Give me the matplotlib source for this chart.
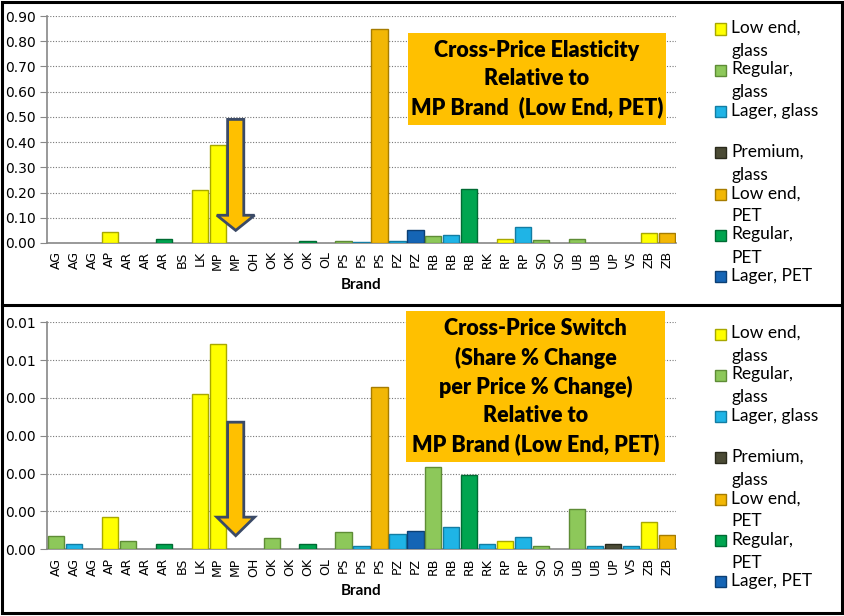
import matplotlib
matplotlib.use("Agg")
import matplotlib.pyplot as plt
from matplotlib.patches import Rectangle, Polygon
from matplotlib.lines import Line2D

brands = ["AG", "AG", "AG", "AP", "AR", "AR", "AR", "BS", "LK", "MP", "MP", "OH",
          "OK", "OK", "OK", "OL", "PS", "PS", "PS", "PZ", "PZ", "RB", "RB", "RB",
          "RK", "RP", "RP", "SO", "SO", "UB", "UB", "UP", "VS", "ZB", "ZB"]
# segment index of each bar (see segment_names)
segment = [1, 2, 6, 0, 1, 3, 5, 3, 0, 0, 4, 3,
           1, 3, 5, 3, 1, 2, 4, 2, 6, 1, 2, 5,
           2, 0, 2, 1, 3, 1, 2, 3, 2, 0, 4]
elasticity = [0, 0, 0, 0.042, 0, 0, 0.017, 0, 0.21, 0.39, 0, 0,
              0, 0, 0.009, 0, 0.008, 0.005, 0.85, 0.008, 0.051, 0.029, 0.033, 0.216,
              0, 0.016, 0.062, 0.011, 0, 0.015, 0, 0, 0, 0.04, 0.04]
switch = [0.00035, 0.00014, 0, 0.00085, 0.00023, 0, 0.00014, 0, 0.00411, 0.00543, 0, 0,
          0.00031, 0, 0.00014, 0, 0.00047, 0.0001, 0.00428, 0.0004, 0.00048, 0.00218, 0.0006, 0.00196,
          0.00013, 0.00022, 0.00033, 0.00008, 0, 0.00106, 0.0001, 0.00013, 0.00008, 0.00073, 0.00038]

segment_names = ["Low end,\nglass", "Regular,\nglass", "Lager, glass", "Premium,\nglass",
                 "Low end,\nPET", "Regular,\nPET", "Lager, PET"]
seg_colors = ["#FFFF00", "#8DC85A", "#1FB4E6", "#4B4B35", "#F2B705", "#00A550", "#1565B5"]
seg_edges = ["#A8A800", "#5E8C36", "#137DA3", "#2A2A1C", "#A67C00", "#006B33", "#0C3F73"]

top_ticks = [0.0, 0.1, 0.2, 0.3, 0.4, 0.5, 0.6, 0.7, 0.8, 0.9]
top_labels = ["0.00", "0.10", "0.20", "0.30", "0.40", "0.50", "0.60", "0.70", "0.80", "0.90"]
bot_ticks = [0.0, 0.001, 0.002, 0.003, 0.004, 0.005, 0.006]
bot_labels = ["0.00", "0.00", "0.00", "0.00", "0.00", "0.01", "0.01"]

top_title = "Cross-Price Elasticity\nRelative to\nMP Brand  (Low End, PET)"
bot_title = "Cross-Price Switch\n(Share % Change\nper Price % Change)\nRelative to\nMP Brand (Low End, PET)"

ref_idx = 10  # MP, Low end PET (reference brand)
top_arrow = (0.49, 0.11, 0.05)      # shaft top, head base, tip
bot_arrow = (0.00336, 0.00085, 0.00036)

W, H = 844, 616
fig = plt.figure(figsize=(W / 100, H / 100), dpi=100)


def px(x, y):
    return x / W, 1 - y / H


def draw_panel(ax, values, ticks, labels, arrow):
    x = list(range(len(brands)))
    cols = [seg_colors[s] for s in segment]
    eds = [seg_edges[s] if v > 0 else "none" for s, v in zip(segment, values)]
    ax.bar(x, values, width=0.9, color=cols, edgecolor=eds, linewidth=1.0, zorder=3)
    top, base, tip = arrow
    c = ref_idx
    pts = [(c - 0.45, top), (c + 0.45, top), (c + 0.45, base), (c + 1.05, base),
           (c, tip), (c - 1.05, base), (c - 0.45, base)]
    ax.add_patch(Polygon(pts, closed=True, facecolor="#FFC000", edgecolor="#3B4A66",
                         linewidth=2, zorder=4))
    ax.set_xlim(-0.5, len(brands) - 0.5)
    ax.set_ylim(ticks[0], ticks[-1])
    ax.set_yticks(ticks)
    ax.set_yticklabels(labels, fontsize=10, family="DejaVu Sans")
    ax.set_xticks(x)
    ax.set_xticklabels(brands, rotation=90, fontsize=9, family="DejaVu Sans")
    ax.tick_params(axis="x", length=0, pad=6)
    ax.tick_params(axis="y", length=5, color="#888888", pad=3)
    ax.grid(axis="y", linestyle=(0, (1, 1.5)), color="#777777", linewidth=0.8, zorder=0)
    for s in ["top", "right"]:
        ax.spines[s].set_visible(False)
    for s in ["left", "bottom"]:
        ax.spines[s].set_color("#888888")
        ax.spines[s].set_linewidth(1.2)
    ax.set_xlabel("Brand", family="Lato", fontweight="bold", fontsize=11, labelpad=5)


ax1 = fig.add_axes([47 / W, 1 - 243 / H, 629 / W, 227 / H])
draw_panel(ax1, elasticity, top_ticks, top_labels, top_arrow)
ax2 = fig.add_axes([47 / W, 1 - 549.3 / H, 629 / W, 227 / H])
draw_panel(ax2, switch, bot_ticks, bot_labels, bot_arrow)

# title boxes
for (x0, y0, x1, y1), txt in [((408, 33, 666, 125), top_title),
                              ((406, 311, 665, 462), bot_title)]:
    fig.add_artist(Rectangle(px(x0, y1), (x1 - x0) / W, (y1 - y0) / H,
                             transform=fig.transFigure, facecolor="#FFC000",
                             edgecolor="none", zorder=5))
    cx, cy = px((x0 + x1) / 2, (y0 + y1) / 2)
    fig.text(cx, cy, txt, ha="center", va="center", family="Lato", fontweight="heavy",
             fontsize=15.5, linespacing=1.4, zorder=6)

# legends
for y_first in [29, 334]:
    for i, name in enumerate(segment_names):
        yc = y_first + i * 41.3
        fig.add_artist(Rectangle(px(715, yc + 5.5), 11 / W, 11 / H, transform=fig.transFigure,
                                 facecolor=seg_colors[i], edgecolor=seg_edges[i],
                                 linewidth=1, zorder=5))
        fig.text(*px(731, yc - 9), name, ha="left", va="top", family="Lato",
                 fontsize=12.5, linespacing=1.55)

# borders
fig.add_artist(Rectangle((2 / W, 3 / H), 840 / W, 611 / H, transform=fig.transFigure,
                         facecolor="none", edgecolor="black", linewidth=2.2, zorder=10))
fig.add_artist(Line2D([2 / W, 842 / W], [1 - 305 / H, 1 - 305 / H], transform=fig.transFigure,
                      color="black", linewidth=2.2, zorder=10))

fig.savefig("out.png", dpi=100)
